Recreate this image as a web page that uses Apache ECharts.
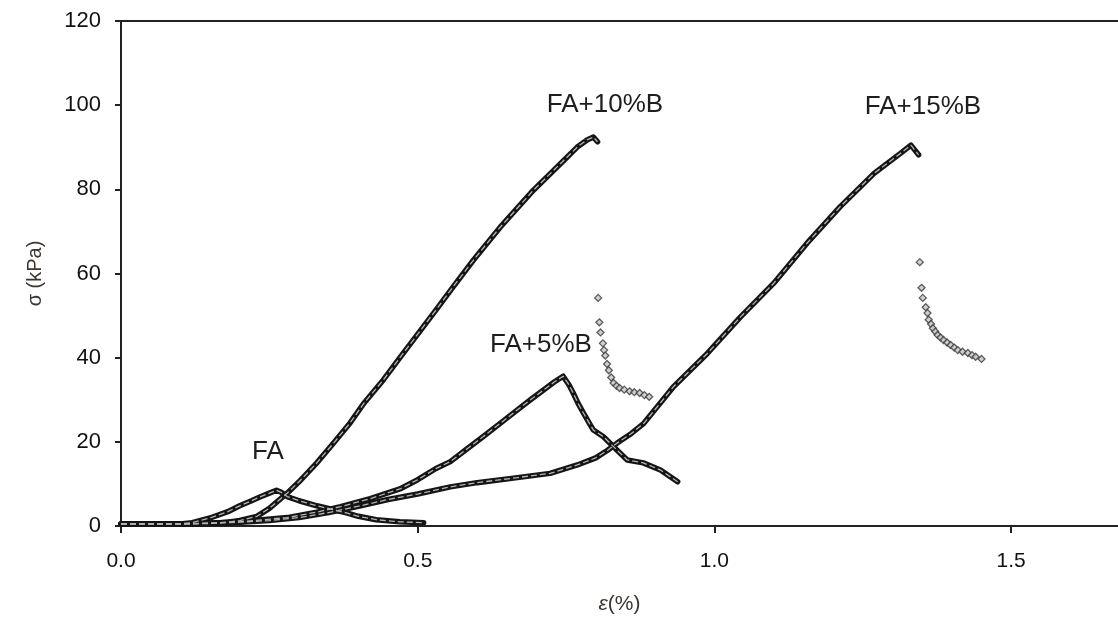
<!DOCTYPE html>
<html>
<head>
<meta charset="utf-8">
<script src="https://cdn.jsdelivr.net/npm/echarts@6/dist/echarts.min.js"></script>
<style>html,body{margin:0;padding:0;background:#fff;}#c{width:1118px;height:628px;}</style>
</head>
<body>
<div id="c"></div>
<script>
// ---- data (strain %, stress kPa) ----
const xTicks = [0, 0.5, 1.0, 1.5];
const yTicks = [0, 20, 40, 60, 80, 100, 120];

const faMain = [
  [0.00,0.5],[0.05,0.5],[0.10,0.5],[0.12,0.8],[0.15,1.9],[0.18,3.4],[0.20,4.8],
  [0.22,6.0],[0.234,6.9],[0.25,7.8],[0.262,8.5],[0.27,8.0],[0.28,7.0],[0.30,6.0],
  [0.33,4.8],[0.36,3.8],[0.38,3.1],[0.40,2.3],[0.43,1.5],[0.47,1.0],[0.51,0.8]
];

const fa5Main = [
  [0.00,0.5],[0.12,0.5],[0.20,1.0],[0.28,2.0],[0.33,3.3],[0.37,4.6],[0.42,6.5],
  [0.47,8.8],[0.50,11.0],[0.53,13.6],[0.555,15.3],[0.58,18.0],[0.61,21.2],
  [0.64,24.5],[0.668,27.6],[0.69,30.0],[0.712,32.3],[0.73,34.2],[0.745,35.6],
  [0.755,33.5],[0.762,31.6],[0.77,29.2],[0.779,26.9],[0.79,24.2],[0.796,22.8],
  [0.813,21.2],[0.836,18.0],[0.853,15.7],[0.88,15.0],[0.909,13.3],[0.938,10.5]
];

const fa10Main = [
  [0.00,0.5],[0.10,0.5],[0.15,0.6],[0.18,0.9],[0.20,1.3],[0.229,2.3],[0.25,4.2],
  [0.28,7.8],[0.30,10.5],[0.33,15.0],[0.36,20.0],[0.386,24.5],[0.41,29.3],
  [0.442,34.7],[0.47,40.0],[0.50,45.6],[0.53,51.2],[0.56,56.9],[0.594,63.2],
  [0.639,71.0],[0.695,79.8],[0.752,87.7],[0.77,90.2],[0.786,91.8],[0.796,92.4],
  [0.803,91.3]
];
const fa10Tail = [
  [0.804,54.2],[0.806,48.4],[0.808,46.0],[0.812,43.4],[0.814,41.8],[0.816,40.5],
  [0.819,38.5],[0.822,37.0],[0.826,35.3],[0.830,34.0],[0.835,33.3],[0.840,32.8],
  [0.848,32.4],[0.857,32.0],[0.865,31.8],[0.874,31.6],[0.882,31.1],[0.890,30.7]
];

const fa15Main = [
  [0.00,0.5],[0.10,0.5],[0.20,0.9],[0.25,1.3],[0.30,2.0],[0.35,3.2],[0.40,4.7],
  [0.45,6.3],[0.50,7.6],[0.555,9.3],[0.60,10.3],[0.668,11.5],[0.723,12.5],
  [0.769,14.5],[0.80,16.2],[0.82,18.0],[0.836,19.7],[0.86,22.0],[0.881,24.4],
  [0.931,33.1],[0.988,41.0],[1.044,49.7],[1.10,57.7],[1.156,67.2],[1.212,75.9],
  [1.269,83.8],[1.314,88.6],[1.331,90.5],[1.344,88.2]
];
const fa15Tail = [
  [1.346,62.7],[1.349,56.6],[1.351,54.2],[1.356,52.0],[1.359,50.6],[1.361,49.0],
  [1.365,48.0],[1.368,47.0],[1.372,46.2],[1.376,45.4],[1.381,44.8],[1.386,44.2],
  [1.392,43.6],[1.398,43.0],[1.404,42.4],[1.410,41.8],[1.418,41.4],[1.427,41.1],
  [1.434,40.6],[1.440,40.2],[1.450,39.7]
];

const labels = [
  {text:'FA', x:268, y:452},
  {text:'FA+5%B', x:541, y:345},
  {text:'FA+10%B', x:605, y:105},
  {text:'FA+15%B', x:923, y:107}
];

// ---- chart ----
const chart = echarts.init(document.getElementById('c'), null, {renderer:'canvas'});
const FONT = 'Liberation Sans, Arial, sans-serif';

function curve(data, name) {
  return [
    {type:'line', name:name, data:data, symbol:'none', z:2, silent:true,
     lineStyle:{color:'#151515', width:5.5, cap:'round', join:'round'}},
    {type:'line', name:name+'-in', data:data, symbol:'none', z:3, silent:true,
     lineStyle:{color:'#b4b4b4', width:1.3, type:[6,3]}}
  ];
}
function tail(data, name) {
  return {type:'scatter', name:name, data:data, symbol:'diamond', symbolSize:7, z:4, silent:true,
    itemStyle:{color:'#c4c4c4', borderColor:'#3a3a3a', borderWidth:1.3}};
}

const option = {
  animation:false,
  backgroundColor:'#ffffff',
  grid:{left:121, right:0, top:21, bottom:102, containLabel:false},
  xAxis:[{
    type:'value', min:0, max:1.68, interval:0.5,
    name:'{i|ε}(%)', nameLocation:'middle', nameGap:68,
    nameTextStyle:{fontFamily:FONT, fontSize:21, color:'#3d3530',
      rich:{i:{fontFamily:FONT, fontSize:21, fontStyle:'italic', color:'#3d3530'}}},
    axisLine:{show:true, onZero:false, lineStyle:{color:'#222', width:2}},
    axisTick:{show:true, length:7, inside:false, customValues:xTicks, lineStyle:{color:'#222', width:2}},
    splitLine:{show:false},
    axisLabel:{fontFamily:FONT, fontSize:21, color:'#111', margin:25, customValues:xTicks,
      formatter:function(v){ return xTicks.some(t=>Math.abs(t-v)<1e-9) ? v.toFixed(1) : ''; }}
  },{
    type:'value', position:'top', min:0, max:1.68,
    axisLine:{show:true, onZero:false, lineStyle:{color:'#222', width:2}},
    axisTick:{show:false}, axisLabel:{show:false}, splitLine:{show:false}
  }],
  yAxis:{
    type:'value', min:yTicks[0], max:yTicks[yTicks.length-1], interval:20,
    name:'σ (kPa)', nameLocation:'middle', nameGap:76, nameRotate:90,
    nameTextStyle:{fontFamily:FONT, fontSize:20, color:'#3d3530'},
    axisLine:{show:true, lineStyle:{color:'#222', width:2}},
    axisTick:{show:true, length:6, lineStyle:{color:'#222', width:2}},
    splitLine:{show:false},
    axisLabel:{fontFamily:FONT, fontSize:22, color:'#111', margin:20}
  },
  series:[].concat(
    curve(faMain,'FA'),
    curve(fa5Main,'FA+5%B'),
    curve(fa10Main,'FA+10%B'),
    [tail(fa10Tail,'FA+10%B tail')],
    curve(fa15Main,'FA+15%B'),
    [tail(fa15Tail,'FA+15%B tail')]
  ),
  graphic: labels.map(l => ({
    type:'text', x:l.x, y:l.y, z:10,
    style:{text:l.text, fontFamily:FONT, fontSize:26, fill:'#1e1e1e', align:'center', verticalAlign:'middle'}
  }))
};
chart.setOption(option);
</script>
</body>
</html>
